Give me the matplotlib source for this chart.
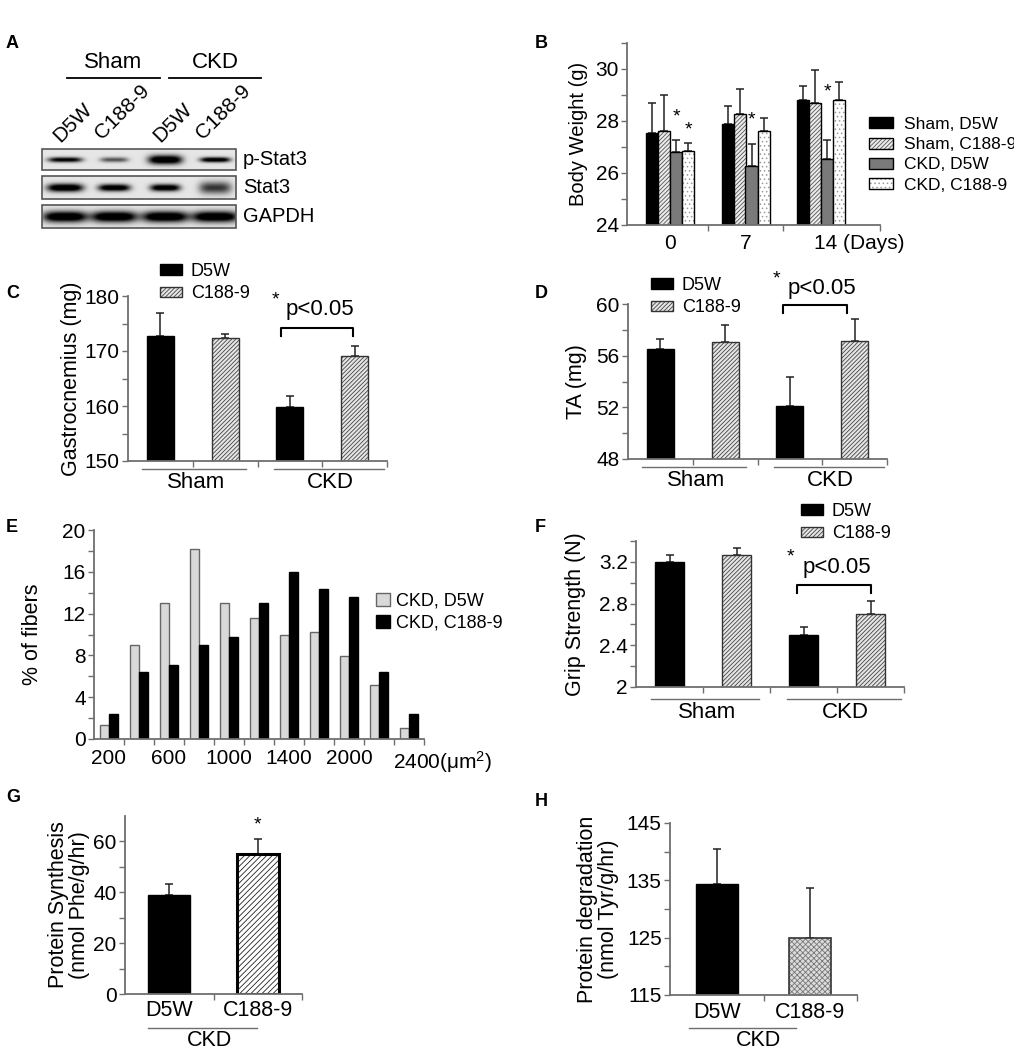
import matplotlib
matplotlib.use("Agg")
import matplotlib.pyplot as plt
import matplotlib.transforms as mtransforms
from matplotlib.patches import Rectangle, Patch
import numpy as np

plt.rcParams.update({
    "font.family": ["Liberation Sans", "DejaVu Sans"], "hatch.linewidth": 0.6,
    "mathtext.default": "regular", "axes.linewidth": 1.3,
})

W, H = 1014, 1050
GREY = "#6e6e6e"

# ---------------- data ----------------
# A: western blot, relative band darkness per lane
lanes = ["D5W", "C188-9", "D5W", "C188-9"]
lane_groups = ["Sham", "CKD"]
blot_rows = ["p-Stat3", "Stat3", "GAPDH"]
pstat3_int = [0.85, 0.5, 1.0, 0.95]
stat3_int = [1.0, 0.95, 0.95, 0.6]
gapdh_int = [1.0, 1.0, 1.0, 1.0]

# B: body weight
days = ["0", "7", "14 (Days)"]
bw_names = ["Sham, D5W", "Sham, C188-9", "CKD, D5W", "CKD, C188-9"]
bw_sham_d5w = [27.55, 27.9, 28.8]
bw_sham_c188 = [27.62, 28.26, 28.7]
bw_ckd_d5w = [26.8, 26.26, 26.55]
bw_ckd_c188 = [26.83, 27.62, 28.82]
bw_err_sham_d5w = [1.13, 0.68, 0.53]
bw_err_sham_c188 = [1.37, 0.98, 1.25]
bw_err_ckd_d5w = [0.46, 0.84, 0.71]
bw_err_ckd_c188 = [0.32, 0.5, 0.67]
bw_star_ckd_d5w = [28.15, 28.05, 29.1]
bw_star_ckd_c188 = [27.65, None, None]

# C-F: Sham D5W, Sham C188-9, CKD D5W, CKD C188-9
treat = ["D5W", "C188-9"]
groups = ["Sham", "CKD"]
gas_mean = [172.7, 172.3, 159.8, 169.1]
gas_err = [4.3, 0.8, 2.0, 1.8]
ta_mean = [56.49, 57.06, 52.1, 57.16]
ta_err = [0.8, 1.31, 2.22, 1.68]
grip_mean = [3.2, 3.27, 2.5, 2.7]
grip_err = [0.064, 0.06, 0.08, 0.12]

# E: fiber size distribution
fib_labels = ["200", "", "600", "", "1000", "", "1400", "", "2000", "", "2400"]
fib_d5w = [1.37, 8.98, 13.0, 18.15, 13.0, 11.62, 9.97, 10.22, 7.9, 5.13, 1.05]
fib_c188 = [2.39, 6.37, 7.04, 9.01, 9.75, 13.0, 16.02, 14.33, 13.63, 6.37, 2.39]

# G, H
syn_mean = [38.9, 55.0]
syn_err = [4.4, 5.8]
deg_mean = [134.3, 125.0]
deg_err = [6.1, 8.6]

fig = plt.figure(figsize=(W / 100, H / 100), dpi=100)
cv = fig.add_axes([0, 0, 1, 1])
cv.set_xlim(0, W); cv.set_ylim(H, 0); cv.axis("off")


def px_axes(x0, y0, x1, y1):
    return fig.add_axes([x0 / W, 1 - y1 / H, (x1 - x0) / W, (y1 - y0) / H])


def below(ax, px):
    return mtransforms.offset_copy(ax.get_xaxis_transform(), fig=fig, x=0, y=-px, units="dots")


def style(ax, ylim, major, minor):
    for s in ["top", "right"]:
        ax.spines[s].set_visible(False)
    for s in ["left", "bottom"]:
        ax.spines[s].set_color(GREY)
    ax.set_ylim(*ylim)
    ax.set_yticks(major); ax.set_yticks(minor, minor=True)
    ax.tick_params(axis="y", which="both", direction="out", length=4, width=1, color=GREY,
                   labelsize=15, pad=2)
    ax.tick_params(axis="x", which="both", direction="out", length=4, width=1, color=GREY)


def errs(ax, x, m, e, lw=1.1):
    ax.errorbar(x, m, yerr=[np.zeros(len(e)), e], fmt="none", ecolor="#222", elinewidth=lw,
                capsize=3, capthick=lw, zorder=1)


def hbar(ax, x, h, width, face, hatch, hcol, edge="black", lw=1):
    # hatch colour is the patch edge colour, so the outline is drawn as a second bar
    ax.bar(x, h, width=width, color=face, edgecolor=hcol, hatch=hatch, lw=0, zorder=2)
    ax.bar(x, h, width=width, fill=False, edgecolor=edge, lw=lw, zorder=2)
    return (Patch(facecolor=face, edgecolor=hcol, hatch=hatch, lw=0),
            Patch(fill=False, edgecolor=edge, lw=lw))


def lettr(x, y, s):
    cv.text(x, y, s, fontsize=13, fontweight="bold", ha="left", va="center")


# ---------------- A: blot ----------------
lettr(6, 43, "A")
lane_x = [65, 114, 165, 215]
for i, g in enumerate(lane_groups):
    x0, x1 = (67, 160) if i == 0 else (169, 261)
    cv.plot([x0, x1], [78, 78], color="k", lw=1.3)
    cv.text((x0 + x1) / 2, 63, g, fontsize=16, ha="center", va="center")
for x, lab in zip(lane_x, lanes):
    dy = 123 if lab == "D5W" else 112
    cv.text(x + 8, dy, lab, fontsize=15, rotation=45, ha="center", va="center")

row_box = [(149, 170), (176, 199), (205, 228)]
row_int = [pstat3_int, stat3_int, gapdh_int]
row_w = [[17, 14, 17, 15], [18, 16, 15, 16], [22, 23, 23, 23]]
row_h = [[2.5, 2.5, 4.5, 2.5], [4.0, 3.5, 3.5, 6.0], [5.5, 5.5, 5.5, 5.5]]
xs = np.arange(42, 236, 0.5)
for (y0, y1), ints, ws, hs, name in zip(row_box, row_int, row_w, row_h, blot_rows):
    ys = np.arange(y0, y1, 0.5)
    X, Y = np.meshgrid(xs, ys)
    dark = np.zeros_like(X)
    yc = (y0 + y1) / 2
    for cx, a, w, h in zip(lane_x, ints, ws, hs):
        dark += a * np.exp(-np.abs((X - cx) / w) ** 4 - ((Y - yc) / h) ** 2)
    img = 0.9 - 0.9 * np.clip(1.3 * dark, 0, 1)
    cv.imshow(img, cmap="gray", vmin=0, vmax=1, extent=[42, 236, y1, y0], aspect="auto",
              interpolation="bilinear")
    cv.add_patch(Rectangle((42, y0), 194, y1 - y0, fill=False, ec="#555", lw=1.2))
    cv.text(243, yc, name, fontsize=14.5, ha="left", va="center")
cv.set_xlim(0, W); cv.set_ylim(H, 0)

# ---------------- B: body weight ----------------
lettr(535, 43, "B")
ax = px_axes(627, 43, 880, 225)
style(ax, (24, 31), [24, 26, 28, 30], [25, 27, 29, 31])
ax.set_xlim(-0.57, 2.78)
ax.set_xticks([0.5, 1.5, 2.78], ["", "", ""])
xg = np.arange(len(days))
bw_series = [bw_sham_d5w, bw_sham_c188, bw_ckd_d5w, bw_ckd_c188]
bw_errs = [bw_err_sham_d5w, bw_err_sham_c188, bw_err_ckd_d5w, bw_err_ckd_c188]
offs = [-0.238, -0.079, 0.079, 0.238]
h0 = ax.bar(xg + offs[0], bw_series[0], width=0.16, color="black", edgecolor="black", lw=1,
            zorder=2)
h1 = hbar(ax, xg + offs[1], bw_series[1], 0.16, "#ececec", "////////", "#555")
h2 = ax.bar(xg + offs[2], bw_series[2], width=0.16, color="#7a7a7a", edgecolor="black", lw=1,
            zorder=2)
h3 = hbar(ax, xg + offs[3], bw_series[3], 0.16, "white", "....", "#9a9a9a")
for k in range(4):
    errs(ax, xg + offs[k], bw_series[k], bw_errs[k])
for k, stars in [(2, bw_star_ckd_d5w), (3, bw_star_ckd_c188)]:
    for i, sy in enumerate(stars):
        if sy is not None:
            ax.text(xg[i] + offs[k], sy, "*", fontsize=14, ha="center", va="center")
for i, d in enumerate(days):
    if i < 2:
        ax.text(xg[i], 0, d, transform=below(ax, 9), fontsize=15, ha="center", va="top")
    else:
        ax.text(xg[i] - 0.1, 0, d, transform=below(ax, 9), fontsize=15, ha="left", va="top")
ax.set_ylabel("Body Weight (g)", fontsize=14.5)
ax.yaxis.set_label_coords(-0.154, 0.5)
ax.legend([h0, h1, h2, h3], bw_names, loc="upper left", bbox_to_anchor=(869 / W, 1 - 117 / H),
          bbox_transform=fig.transFigure, frameon=False, fontsize=12.5, handlelength=1.4,
          handleheight=0.6, labelspacing=0.3, handletextpad=0.6, borderpad=0, borderaxespad=0)

# ---------------- C, D, F ----------------


def four_bar(ax, mean, err, ylim, major, minor, ylabel, lab_x, ul_px, gl_px,
             br, star, ptxt, leg_xy):
    style(ax, ylim, major, minor)
    x = np.arange(4)
    ax.set_xlim(-0.5, 3.5)
    ax.set_xticks([0.5, 1.5, 2.5, 3.5], ["", "", "", ""])
    ha = ax.bar(x[0::2], mean[0::2], width=0.42, color="black", edgecolor="black", lw=1,
                zorder=2)
    hb = hbar(ax, x[1::2], mean[1::2], 0.42, "#e6e6e6", "////////", "#444", edge="#333")
    errs(ax, x, mean, err)
    for (a, b), g in zip([(-0.28, 1.33), (1.75, 3.45)], groups):
        ax.plot([a, b], [0, 0], transform=below(ax, ul_px), color=GREY, lw=1, clip_on=False)
        ax.text((a + b) / 2 + 0.03, 0, g, transform=below(ax, gl_px), fontsize=16,
                ha="center", va="center")
    (bx0, bx1, by0, by1) = br
    ax.plot([bx0, bx0, bx1, bx1], [by1, by0, by0, by1], color="black", lw=1.5, clip_on=False)
    ax.text(star[0], star[1], "*", fontsize=14, ha="center", va="center")
    ax.text(ptxt[0], ptxt[1], "p<0.05", fontsize=16, ha="center", va="center")
    ax.set_ylabel(ylabel, fontsize=15.5)
    ax.yaxis.set_label_coords(lab_x, 0.5)
    ax.legend([ha, hb], treat, loc="upper left",
              bbox_to_anchor=(leg_xy[0] / W, 1 - leg_xy[1] / H),
              bbox_transform=fig.transFigure, frameon=False, fontsize=13, handlelength=1.2,
              handleheight=0.55, labelspacing=0.3, handletextpad=0.5, borderpad=0,
              borderaxespad=0)


lettr(6, 293, "C")
ax = px_axes(128, 296, 387, 461)
four_bar(ax, gas_mean, gas_err, (150, 180), [150, 160, 170, 180], [155, 165, 175],
         "Gastrocnemius (mg)", -0.178, 8, 21, (1.87, 2.98, 174.2, 172.8), (1.77, 179.2),
         (2.47, 177.6), (160, 263))

lettr(535, 294, "D")
ax = px_axes(628, 304, 887, 459)
four_bar(ax, ta_mean, ta_err, (48, 60), [48, 52, 56, 60], [50, 54, 58],
         "TA (mg)", -0.158, 8, 22, (1.89, 2.88, 59.9, 59.3), (1.79, 61.9),
         (2.5, 61.2), (651, 277))

lettr(535, 527, "F")
ax = px_axes(636, 541, 904, 687)
four_bar(ax, grip_mean, grip_err, (2, 3.4), [2, 2.4, 2.8, 3.2], [2.2, 2.6, 3.0, 3.4],
         "Grip Strength (N)", -0.187, 12, 26, (1.9, 3.0, 2.98, 2.9), (1.81, 3.25),
         (2.5, 3.15), (801, 503))
ax.set_yticklabels(["2", "2.4", "2.8", "3.2"])

# ---------------- E: fiber distribution ----------------
lettr(6, 528, "E")
ax = px_axes(94, 530, 424, 739)
style(ax, (0, 20), [0, 4, 8, 12, 16, 20], [2, 6, 10, 14, 18])
xb = np.arange(len(fib_d5w))
ax.set_xlim(-0.5, 10.5)
ax.set_xticks(np.arange(0.5, 10.6, 1), [""] * 11)
ax.bar(xb - 0.16, fib_d5w, width=0.3, color="#d9d9d9", edgecolor="#666", lw=1,
       label="CKD, D5W", zorder=2)
ax.bar(xb + 0.14, fib_c188, width=0.3, color="black", edgecolor="black", lw=1,
       label="CKD, C188-9", zorder=2)
for i, lab in enumerate(fib_labels):
    if lab and i < 10:
        ax.text(xb[i], 0, lab, transform=below(ax, 10), fontsize=15, ha="center", va="top")
ax.text(xb[-1] - 0.53, 0, fib_labels[-1] + "(μm$^2$)", transform=below(ax, 10), fontsize=15,
        ha="left", va="top")
ax.set_ylabel("% of fibers", fontsize=15.5)
ax.yaxis.set_label_coords(-0.155, 0.5)
ax.legend(loc="upper left", bbox_to_anchor=(376 / W, 1 - 593 / H), bbox_transform=fig.transFigure,
          frameon=False, fontsize=13, handlelength=0.8, handleheight=0.7, labelspacing=0.25,
          handletextpad=0.3, borderpad=0, borderaxespad=0)

# ---------------- G: protein synthesis ----------------
lettr(6, 797, "G")
ax = px_axes(125, 816, 302, 994)
style(ax, (0, 70), [0, 20, 40, 60], [10, 30, 50])
xs2 = np.arange(2)
ax.set_xlim(-0.5, 1.5)
ax.set_xticks([0.5, 1.5], ["", ""])
ax.bar(xs2[0], syn_mean[0], width=0.47, color="black", edgecolor="black", lw=1, zorder=2)
hbar(ax, xs2[1], syn_mean[1], 0.47, "white", "//////", "#222", lw=2.2)
errs(ax, xs2, syn_mean, syn_err)
ax.text(xs2[1], syn_mean[1] + syn_err[1] + 5.5, "*", fontsize=14, ha="center", va="center")
for i, lab in enumerate(treat):
    ax.text(xs2[i], 0, lab, transform=below(ax, 6), fontsize=15.5, ha="center", va="top")
ax.plot([-0.24, 0.99], [0, 0], transform=below(ax, 34), color=GREY, lw=1, clip_on=False)
ax.text(0.45, 0, "CKD", transform=below(ax, 46), fontsize=15.5, ha="center", va="center")
ax.set_ylabel("Protein Synthesis\n(nmol Phe/g/hr)", fontsize=15.5, linespacing=1.0)
ax.yaxis.set_label_coords(-0.198, 0.5)

# ---------------- H: protein degradation ----------------
lettr(535, 802, "H")
ax = px_axes(670, 823, 857, 995)
style(ax, (115, 145), [115, 125, 135, 145], [120, 130, 140])
ax.set_xlim(-0.5, 1.5)
ax.set_xticks([0.5, 1.5], ["", ""])
ax.bar(xs2[0], deg_mean[0], width=0.45, color="black", edgecolor="black", lw=1, zorder=2)
hbar(ax, xs2[1], deg_mean[1], 0.45, "#dcdcdc", "xxxxxx", "#777", edge="#333", lw=1.2)
errs(ax, xs2, deg_mean, deg_err)
for i, lab in enumerate(treat):
    ax.text(xs2[i], 0, lab, transform=below(ax, 7), fontsize=15.5, ha="center", va="top")
ax.plot([-0.3, 0.85], [0, 0], transform=below(ax, 33), color=GREY, lw=1, clip_on=False)
ax.text(0.45, 0, "CKD", transform=below(ax, 46), fontsize=15.5, ha="center", va="center")
ax.set_ylabel("Protein degradation\n(nmol Tyr/g/hr)", fontsize=15.5, linespacing=1.0)
ax.yaxis.set_label_coords(-0.273, 0.5)

fig.savefig("out.png", dpi=100)
